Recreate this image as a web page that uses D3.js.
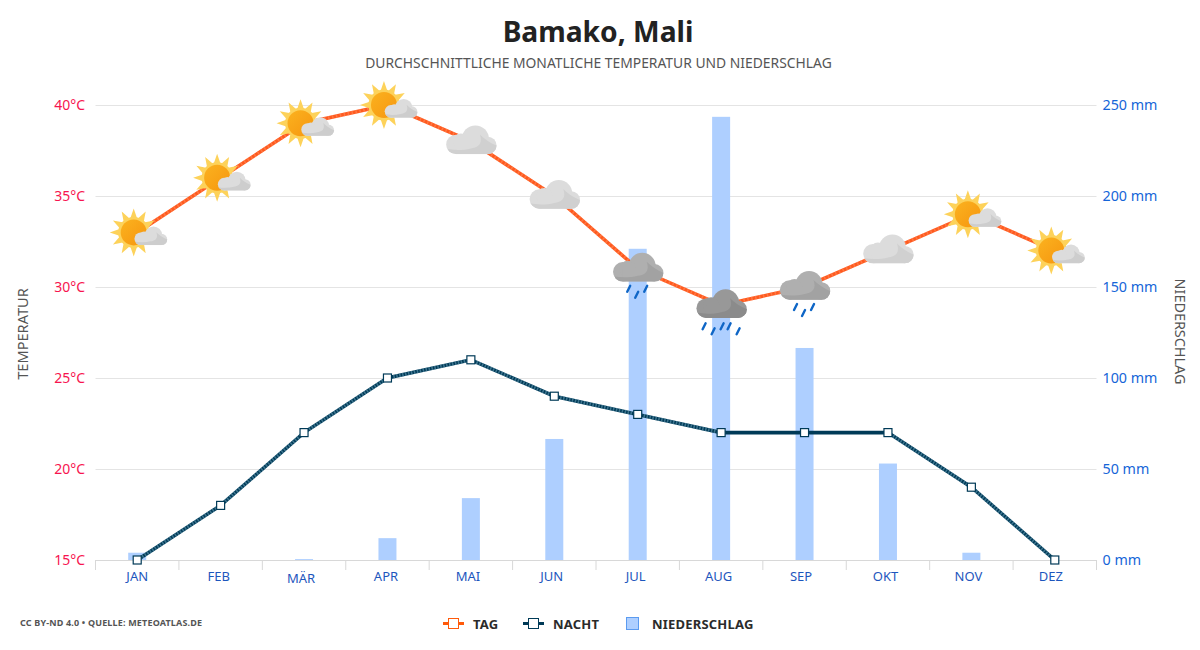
<!DOCTYPE html>
<html><head><meta charset="utf-8">
<script src="https://cdn.jsdelivr.net/npm/d3@7"></script>
<style>html,body{margin:0;padding:0;background:#fff}svg{display:block;font-family:"Noto Sans",sans-serif}</style>
</head><body><svg id="c" width="1200" height="650"></svg>
<script>
const months=["JAN","FEB","MÄR","APR","MAI","JUN","JUL","AUG","SEP","OKT","NOV","DEZ"];
const dayTemp=[33,36,39,40,38,35,31,29,30,32,34,32];
const nightTemp=[15,18,22,25,26,24,23,22,22,22,19,15];
const precip=[4,0,0.5,12,34,66.5,171,243.5,116.5,53,4,0];
const weather=["sun","sun","sun","sun","cloud","cloud","rain","storm","rain","cloud","sun","sun"];
const tempTicks=[15,20,25,30,35,40];
const precipTicks=[0,50,100,150,200,250];

const svg=d3.select("#c");
const W={l:95.5,r:1096.5,t:105,b:560};
const FF="'Noto Sans',sans-serif";
const x=d3.scaleBand().domain(months).range([W.l,W.r]);
const yT=d3.scaleLinear().domain([15,40]).range([W.b,W.t]);
const yP=d3.scaleLinear().domain([0,250]).range([W.b,W.t]);
const cx=m=>x(m)+x.bandwidth()/2;

const defs=svg.append("defs");
const g1=defs.append("linearGradient").attr("id","sunG").attr("x1",0).attr("y1",0).attr("x2",1).attr("y2",1);
g1.append("stop").attr("offset",0).attr("stop-color","#fbb21f");
g1.append("stop").attr("offset",1).attr("stop-color","#f6960f");
const clip=defs.append("clipPath").attr("id","cloudClip");
function cloudShape(sel){
 sel.append("circle").attr("cx",-15).attr("cy",3).attr("r",9.7);
 sel.append("circle").attr("cx",4.5).attr("cy",-2.5).attr("r",13.5);
 sel.append("circle").attr("cx",17).attr("cy",4).attr("r",8.7);
 sel.append("circle").attr("cx",-10).attr("cy",0).attr("r",8);
 sel.append("rect").attr("x",-15).attr("y",0).attr("width",32).attr("height",12.7);
}
cloudShape(clip);

// title
svg.append("text").attr("x",598).attr("y",42).attr("text-anchor","middle").attr("font-size",28.2).attr("font-weight",700).attr("fill","#222").text("Bamako, Mali");
svg.append("text").attr("x",598.5).attr("y",68).attr("text-anchor","middle").attr("font-size",13.86).attr("fill","#555").text("DURCHSCHNITTLICHE MONATLICHE TEMPERATUR UND NIEDERSCHLAG");

// grid
svg.append("g").selectAll("line").data(tempTicks.slice(1)).join("line")
 .attr("x1",W.l).attr("x2",W.r).attr("y1",d=>yT(d)+.5).attr("y2",d=>yT(d)+.5).attr("stroke","#e4e4e4");

// bars
svg.append("g").selectAll("rect").data(months).join("rect")
 .attr("x",m=>cx(m)-9).attr("width",18)
 .attr("y",(m,i)=>yP(precip[i])).attr("height",(m,i)=>W.b-yP(precip[i])).attr("fill","#aecfff");

// axes
const labelNudge=[0,-2,-3,-1.5,-3,-2.5,-2,-2.5,-3.5,-2.5,-3,-4];
const ax=svg.append("g").attr("transform",`translate(0,${W.b})`).call(d3.axisBottom(x).tickSize(0).tickPadding(12));
ax.select(".domain").attr("stroke","#d8d8d8").attr("d",`M${W.l},0.5H${W.r}`);
ax.selectAll("text").attr("font-size",13).attr("font-family",FF).attr("fill","#1d56bd")
 .attr("dx",(d,i)=>labelNudge[i]).attr("dy",(d)=>d==="MÄR"?"0.85em":"0.71em");
svg.append("g").selectAll("line").data(d3.range(13)).join("line")
 .attr("x1",i=>W.l+i*x.bandwidth()).attr("x2",i=>W.l+i*x.bandwidth()).attr("y1",W.b).attr("y2",W.b+10).attr("stroke","#d8d8d8");

const al=svg.append("g").attr("transform",`translate(${W.l},0)`).call(d3.axisLeft(yT).tickValues(tempTicks).tickSize(0).tickPadding(10.5).tickFormat(d=>d+"°C"));
al.select(".domain").remove();
al.selectAll("text").attr("font-size",14).attr("font-family",FF).attr("fill","#f7144f");
const ar=svg.append("g").attr("transform",`translate(${W.r},0)`).call(d3.axisRight(yP).tickValues(precipTicks).tickSize(0).tickPadding(6).tickFormat(d=>d+" mm"));
ar.select(".domain").remove();
ar.selectAll("text").attr("font-size",14.3).attr("font-family",FF).attr("fill","#1565d8");

svg.append("text").attr("transform","translate(28,334) rotate(-90)").attr("text-anchor","middle").attr("font-size",14.6).attr("fill","#555").text("TEMPERATUR");
svg.append("text").attr("transform","translate(1175,331.5) rotate(90)").attr("text-anchor","middle").attr("font-size",14.4).attr("fill","#555").text("NIEDERSCHLAG");

// lines
const line=d3.line().x(d=>cx(d.m));
const dayPts=months.map((m,i)=>({m,v:dayTemp[i]}));
const nightPts=months.map((m,i)=>({m,v:nightTemp[i]}));
const lineT=line.y(d=>yT(d.v));
svg.append("path").attr("d",lineT(dayPts)).attr("fill","none").attr("stroke","#ff5a1f").attr("stroke-width",3.6);
svg.append("path").attr("d",lineT(dayPts)).attr("fill","none").attr("stroke","#ff8f5f").attr("stroke-width",3.6).attr("stroke-dasharray","1.5 2.5").attr("opacity",.55);
svg.append("path").attr("d",lineT(nightPts)).attr("fill","none").attr("stroke","#003a57").attr("stroke-width",3.6);
svg.append("g").selectAll("path").data(d3.pairs(nightPts).filter(p=>p[0].v!==p[1].v)).join("path")
 .attr("d",p=>lineT(p)).attr("fill","none").attr("stroke","#6fa6bd").attr("stroke-width",3.6).attr("stroke-dasharray","1.5 1.5").attr("opacity",.55);
svg.append("g").selectAll("rect").data(nightPts).join("rect")
 .attr("x",d=>cx(d.m)-4).attr("y",d=>yT(d.v)-4).attr("width",8).attr("height",8)
 .attr("fill","#fff").attr("stroke","#003a57").attr("stroke-width",1.2);

// icons
const cloudCols={sun:["#dcdcdc","#cdcdcd"],cloud:["#dcdcdc","#d0d0d0"],rain:["#afafaf","#a2a2a2"],storm:["#989898","#8b8b8b"]};
function drawCloud(g,type){
 const c=cloudCols[type];
 const body=g.append("g").attr("fill",c[0]);
 cloudShape(body);
 g.append("path").attr("clip-path","url(#cloudClip)").attr("d","M-27,7 C-18,9 -8,9 0,7 C8,6 12,2 9,-7 C14,-2 20,2 28,5 L28,15 L-27,15 Z").attr("fill",c[1]);
}
const spikes=d3.range(12).map(i=>{
 const a=i/12*2*Math.PI-Math.PI/2,w=15*Math.PI/180,r=14;
 return `M${r*Math.cos(a-w)},${r*Math.sin(a-w)}L${24*Math.cos(a)},${24*Math.sin(a)}L${r*Math.cos(a+w)},${r*Math.sin(a+w)}Z`;
}).join("");
months.forEach((m,i)=>{
 const t=weather[i];
 const g=svg.append("g").attr("transform",`translate(${cx(m)},${yT(dayTemp[i])})`);
 if(t==="sun"){
  const s=g.append("g").attr("transform","translate(-3.5,0)");
  s.append("path").attr("d",spikes).attr("fill","#fdd25a");
  s.append("circle").attr("r",15.5).attr("fill","#fdd25a");
  s.append("circle").attr("r",13).attr("fill","url(#sunG)");
  drawCloud(g.append("g").attr("transform","translate(13.3,4.4) scale(.65)"),t);
 } else {
  if(t==="rain"||t==="storm"){
   const drops=t==="rain"?[[-9,20],[-1,26],[8,20]]:[[-17,21],[-8,26],[1,21],[8,21],[17,26]];
   g.selectAll("line.d").data(drops).join("line").attr("x1",d=>d[0]+1.5).attr("y1",d=>d[1]-3).attr("x2",d=>d[0]-1.5).attr("y2",d=>d[1]+3)
    .attr("stroke","#0f66c6").attr("stroke-width",2.4).attr("stroke-linecap","round");
  }
  drawCloud(g,t);
 }
});

// legend
const lg=svg.append("g");
const legLabel=(x0,t)=>lg.append("text").attr("x",x0).attr("y",629).attr("font-size",13).attr("font-weight",700).attr("letter-spacing",.2).attr("fill","#2b2b2b").text(t);
lg.append("line").attr("x1",443).attr("x2",464).attr("y1",623.5).attr("y2",623.5).attr("stroke","#ff5a0a").attr("stroke-width",3);
lg.append("rect").attr("x",448.5).attr("y",618.5).attr("width",10).attr("height",10).attr("fill","#fff").attr("stroke","#ff5a0a");
legLabel(473,"TAG");
lg.append("line").attr("x1",523).attr("x2",544).attr("y1",623.5).attr("y2",623.5).attr("stroke","#003a57").attr("stroke-width",3);
lg.append("rect").attr("x",528.5).attr("y",618.5).attr("width",10).attr("height",10).attr("fill","#fff").attr("stroke","#003a57");
legLabel(553,"NACHT");
lg.append("rect").attr("x",626.5).attr("y",617.5).attr("width",12).attr("height",12).attr("fill","#aecfff").attr("stroke","#5b9bf0");
legLabel(652,"NIEDERSCHLAG");

svg.append("text").attr("x",20).attr("y",626).attr("font-size",9).attr("font-weight",700).attr("letter-spacing",.17).attr("fill","#555").text("CC BY-ND 4.0 • QUELLE: METEOATLAS.DE");
</script></body></html>
